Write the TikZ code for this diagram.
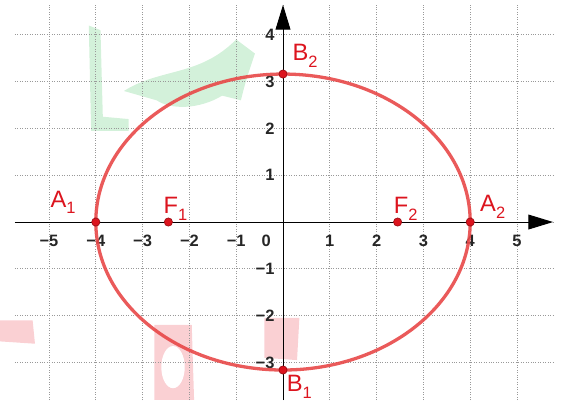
\documentclass[tikz,border=0pt]{standalone}
\usepackage{fontspec}
\setmainfont{Liberation Sans}
\usetikzlibrary{arrows.meta}
\definecolor{elipred}{RGB}{232,72,72}
\definecolor{ptred}{RGB}{220,20,30}
\definecolor{wmgreen}{RGB}{130,215,150}
\definecolor{wmred}{RGB}{240,120,130}
\newcommand{\sub}[1]{\raisebox{-0.55ex}{\normalsize #1}}
\tikzset{
  gridline/.style={gray!80,densely dotted,line width=0.5pt},
  axisline/.style={-{Triangle[length=15pt,width=9pt]},line width=0.6pt},
  ticklabel/.style={font=\bfseries,text=black!85,inner sep=1pt},
  ptlabel/.style={font=\Large,text=ptred,inner sep=1pt},
  pt/.style={circle,fill=ptred,draw=ptred!70!black,inner sep=0pt,minimum size=5pt},
}
\begin{document}
\begin{tikzpicture}[x=1cm,y=1cm]
    \useasboundingbox (-6.047,-3.803) rectangle (6.068,4.744);
    % Logo mờ phía sau
    \fill[wmgreen,opacity=0.35] (-4.15,4.2) -- (-3.9,4.1) -- (-3.85,2.25) -- (-3.3,2.2) -- (-3.3,1.95) -- (-4.1,1.95) -- cycle;
    \fill[wmgreen,opacity=0.35] (-3.4,2.8) .. controls (-2.6,3.3) and (-1.8,3.1) .. (-1.0,3.9)
        -- (-0.6,3.6) .. controls (-0.8,3.0) .. (-0.9,2.6) -- (-1.3,2.7)
        .. controls (-1.8,2.4) and (-2.4,2.4) .. (-2.7,2.6) -- cycle;
    \fill[wmred,opacity=0.35] (-6.05,-2.1) -- (-5.35,-2.1) -- (-5.3,-2.6) -- (-6.05,-2.55) -- cycle;
    \fill[wmred,opacity=0.35] (-2.75,-2.2) -- (-1.95,-2.2) -- (-1.9,-3.8) -- (-2.75,-3.8) -- cycle;
    \fill[white] (-2.35,-3.1) ellipse (0.25 and 0.45);
    \fill[wmred,opacity=0.35] (-0.4,-2.05) -- (0.35,-2.05) -- (0.3,-2.95) -- (-0.4,-2.9) -- cycle;
    % Vẽ lưới
    \draw[gridline] (-5.73,-3.803) grid (5.77,4.64);
    % Vẽ trục tọa độ
    \coordinate (xl) at (-5.73,0);
    \coordinate (xr) at (5.77,0);
    \coordinate (yb) at (0,-3.803);
    \coordinate (yt) at (0,4.64);
    \draw[axisline] (xl) -- (xr);
    \draw[axisline] (yb) -- (yt);
    % Đánh số trên trục x
    \foreach \x/\t in {-5/−5,-4/−4,-3/−3,-2/−2,-1/−1,1/1,2/2,3/3,4/4,5/5}
    \node[ticklabel] at (\x,-0.4) {\t};
    \node[ticklabel] (O) at (-0.36,-0.4) {0};
    % Đánh số trên trục y
    \foreach \y/\t in {-3/−3,-2/−2,-1/−1,1/1,2/2,3/3,4/4}
    \node[ticklabel,left] at (-0.14,\y) {\t};
    % Vẽ elip
    \draw[elipred,line width=2pt,opacity=0.9] (0,0) ellipse (4 and 3.162);
    % Các điểm
    \node[pt] (A1) at (-4,0) {};
    \node[pt] (A2) at (4,0) {};
    \node[pt] (F1) at (-2.449,0) {};
    \node[pt] (F2) at (2.449,0) {};
    \node[pt] (B1) at (0,-3.162) {};
    \node[pt] (B2) at (0,3.162) {};
    \node[ptlabel] at (-4.7,0.42) {A\sub{1}};
    \node[ptlabel] at (-2.3,0.28) {F\sub{1}};
    \node[ptlabel] at (2.62,0.28) {F\sub{2}};
    \node[ptlabel] at (4.48,0.33) {A\sub{2}};
    \node[ptlabel] at (0.47,3.55) {B\sub{2}};
    \node[ptlabel] at (0.35,-3.52) {B\sub{1}};
\end{tikzpicture}
\end{document}
